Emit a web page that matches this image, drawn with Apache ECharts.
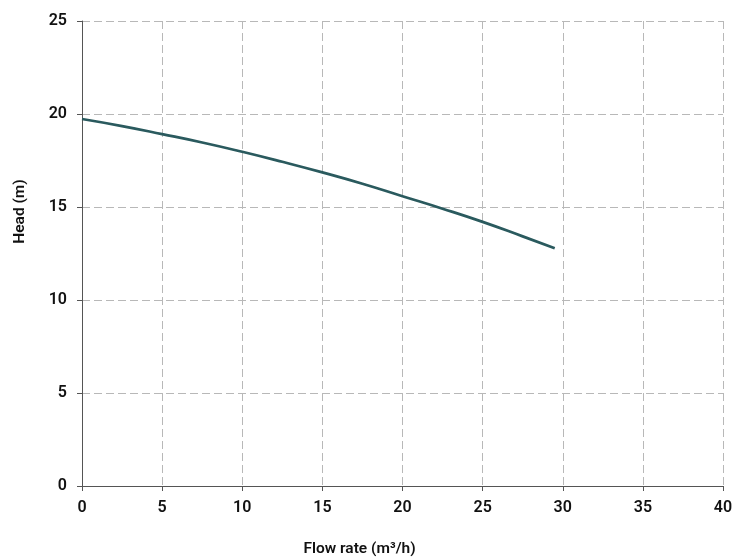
<!DOCTYPE html>
<html>
<head>
<meta charset="utf-8">
<script src="https://cdn.jsdelivr.net/npm/echarts@6/dist/echarts.min.js"></script>
<style>html,body{margin:0;padding:0;background:#fff}#c{width:734px;height:558px}</style>
</head>
<body>
<div id="c"></div>
<script>
const flowRate = [0, 2.5, 5, 7.5, 10, 12.5, 15, 17.5, 20, 22.5, 25, 27.5, 29.5];
const head = [19.73, 19.35, 18.92, 18.47, 17.97, 17.43, 16.86, 16.25, 15.58, 14.91, 14.2, 13.42, 12.78];
const xName = 'Flow rate (m³/h)';
const yName = 'Head (m)';

const chart = echarts.init(document.getElementById('c'));
const font = 'Roboto';
chart.setOption({
  animation: false,
  grid: {left: 82, right: 11, top: 21, bottom: 72, containLabel: false, outerBoundsMode: 'none'},
  xAxis: {
    type: 'value', min: 0, max: 40, interval: 5,
    name: xName, nameLocation: 'middle', nameGap: 55,
    nameTextStyle: {fontFamily: font, fontSize: 15.5, fontWeight: 600, color: '#111', padding: [0, 86, 0, 0]},
    axisLine: {show: true, lineStyle: {color: '#555', width: 1}},
    axisTick: {show: true, length: 5, lineStyle: {color: '#555'}},
    axisLabel: {fontFamily: font, fontSize: 16, fontWeight: 600, color: '#111', margin: 14},
    splitLine: {show: true, lineStyle: {color: '#b8b8b8', type: [8, 4], width: 1}}
  },
  yAxis: {
    type: 'value', min: 0, max: 25, interval: 5,
    name: yName, nameLocation: 'middle', nameGap: 54, nameRotate: 90,
    nameTextStyle: {fontFamily: font, fontSize: 15.5, fontWeight: 600, color: '#111', padding: [0, 0, 0, 84]},
    axisLine: {show: true, lineStyle: {color: '#555', width: 1}},
    axisTick: {show: true, length: 5, lineStyle: {color: '#555'}},
    axisLabel: {fontFamily: font, fontSize: 16, fontWeight: 600, color: '#111', margin: 15},
    splitLine: {show: true, lineStyle: {color: '#b8b8b8', type: [8, 4], width: 1}}
  },
  series: [{
    type: 'line',
    data: flowRate.map((x, i) => [x, head[i]]),
    smooth: true,
    showSymbol: false,
    lineStyle: {color: '#2a5a5e', width: 2.7}
  }]
});
</script>
</body>
</html>
